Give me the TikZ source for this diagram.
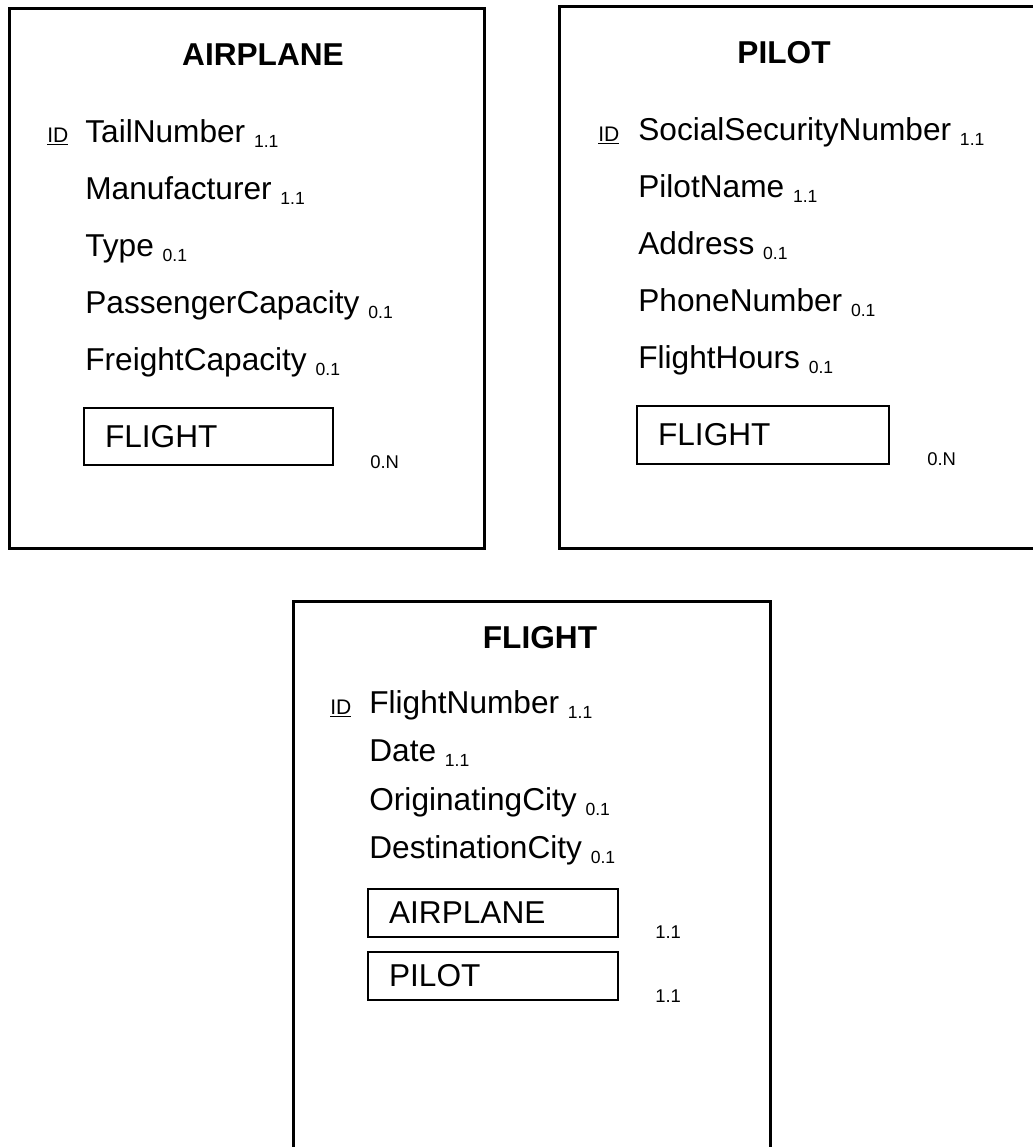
\documentclass[tikz,border=0pt]{standalone}
\usepackage{fontspec}
\setmainfont{Liberation Sans}
\usepackage{tikz}
\usetikzlibrary{positioning}

\newcommand{\cardsub}[1]{{\fontsize{10}{12}\selectfont\raisebox{-0.1cm}{#1}}}

\tikzset{
  entity/.style={draw, line width=1.6pt, rectangle, inner sep=0pt, anchor=north west},
  refbox/.style={draw, line width=1.2pt, rectangle, anchor=north west, inner xsep=0.42cm, inner ysep=0pt,
    align=left, font=\fontsize{18}{21}\selectfont},
  title/.style={anchor=base, inner sep=0pt, font=\bfseries\fontsize{18}{21}\selectfont},
  attr/.style={anchor=base west, inner sep=0pt, font=\fontsize{18}{21}\selectfont},
  idmark/.style={anchor=base west, inner sep=0pt, font=\fontsize{12}{14}\selectfont},
  card/.style={anchor=base west, inner sep=0pt, font=\fontsize{10.5}{12}\selectfont}
}

\begin{document}
\begin{tikzpicture}[x=0.02cm, y=-0.02cm]
\useasboundingbox (0,0) rectangle (1032,1147);

% AIRPLANE
\node[entity, minimum width=9.5cm, minimum height=10.8cm] (airplane) at (8,7) {};
\node[title] (airplane-t) at (263,65) {AIRPLANE};
\node[idmark] (airplane-id) at (47,142) {\underline{ID}};
\foreach \name/\c [count=\i] in {TailNumber/1.1, Manufacturer/1.1, Type/0.1, PassengerCapacity/0.1, FreightCapacity/0.1}
  \node[attr] (airplane-\i) at (85, {142+57*(\i-1)}) {\name\ \cardsub{\c}};
\node[refbox, text width=4.14cm, minimum height=1.14cm] (airplane-ref) at (83,407) {FLIGHT};
\node[card] (airplane-refc) at (370,468) {0.N};

% PILOT
\node[entity, minimum width=9.56cm, minimum height=10.84cm] (pilot) at (558,5) {};
\node[title] (pilot-t) at (784,63) {PILOT};
\node[idmark] (pilot-id) at (598,141) {\underline{ID}};
\foreach \name/\c [count=\i] in {SocialSecurityNumber/1.1, PilotName/1.1, Address/0.1, PhoneNumber/0.1, FlightHours/0.1}
  \node[attr] (pilot-\i) at (638, {140+57*(\i-1)}) {\name\ \cardsub{\c}};
\node[refbox, text width=4.2cm, minimum height=1.16cm] (pilot-ref) at (636,405) {FLIGHT};
\node[card] (pilot-refc) at (927,465) {0.N};

% FLIGHT
\node[entity, minimum width=9.54cm, minimum height=11.1cm] (flight) at (292,600) {};
\node[title] (flight-t) at (540,648) {FLIGHT};
\node[idmark] (flight-id) at (330,714) {\underline{ID}};
\foreach \name/\c [count=\i] in {FlightNumber/1.1, Date/1.1, OriginatingCity/0.1, DestinationCity/0.1}
  \node[attr] (flight-\i) at (369, {713+48.5*(\i-1)}) {\name\ \cardsub{\c}};
\node[refbox, text width=4.16cm, minimum height=0.96cm] (flight-ref1) at (367,888) {AIRPLANE};
\node[card] (flight-ref1c) at (655,938) {1.1};
\node[refbox, text width=4.16cm, minimum height=0.96cm] (flight-ref2) at (367,951) {PILOT};
\node[card] (flight-ref2c) at (655,1002) {1.1};
\end{tikzpicture}
\end{document}
